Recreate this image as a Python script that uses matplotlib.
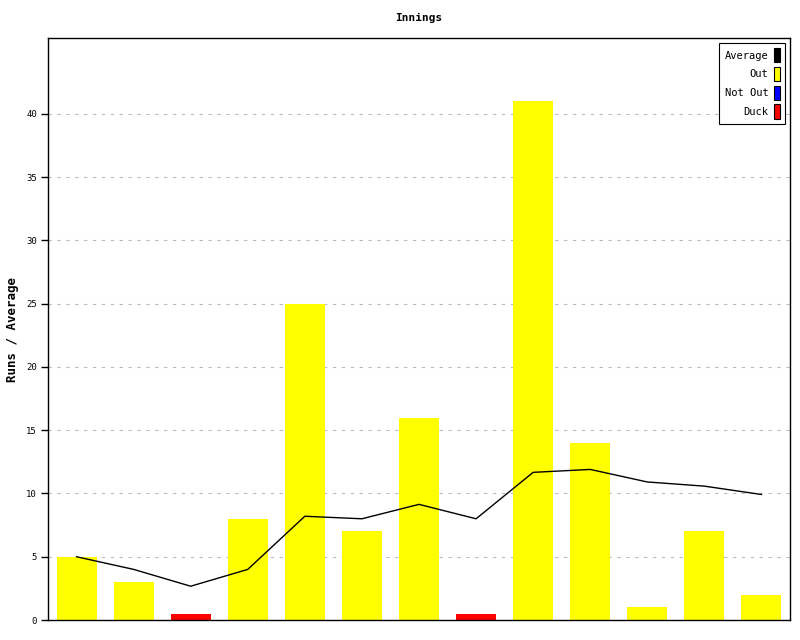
import matplotlib
matplotlib.use("Agg")
import matplotlib.pyplot as plt
from matplotlib.patches import Rectangle

innings = list(range(1, 14))
runs = [5, 3, 0.5, 8, 25, 7, 16, 0.5, 41, 14, 1, 7, 2]
status = ["Out", "Out", "Duck", "Out", "Out", "Out", "Out", "Duck", "Out", "Out", "Out", "Out", "Out"]
average = [5, 4, 2.67, 4, 8.2, 8, 9.14, 8, 11.67, 11.9, 10.91, 10.58, 9.92]
yticks = [0, 5, 10, 15, 20, 25, 30, 35, 40]

colors = {"Out": "#ffff00", "Not Out": "#0000ff", "Duck": "#ff0000", "Average": "#000000"}

plt.rcParams['font.family'] = ['DejaVu Sans Mono']
fig = plt.figure(figsize=(8, 6.4), dpi=100)
ax = fig.add_axes([0.06, 0.03125, 0.9275, 0.909375])

xs = list(range(len(innings)))
ax.bar(xs, runs, width=0.7, color=[colors[s] for s in status], zorder=2)
ax.plot(xs, average, color="black", linewidth=1, zorder=3)

ax.set_xlim(-0.5, len(innings) - 0.5)
ax.set_ylim(0, 46)
ax.set_yticks(yticks)
ax.set_yticklabels([str(t) for t in yticks], fontsize=6.5)
ax.set_xticks([])
ax.yaxis.grid(True, linestyle=(0, (3, 5)), color="#bbbbbb", linewidth=0.8, zorder=0)
ax.tick_params(axis='y', length=5, width=1, direction='out', pad=3)
for s in ax.spines.values():
    s.set_linewidth(1)
ax.set_ylabel("Runs / Average", fontsize=9, fontweight='bold', labelpad=5)
ax.set_title("Innings", fontsize=8, fontweight='bold', pad=12)

handles = [Rectangle((0, 0), 1, 1, facecolor=colors[k], edgecolor='black', linewidth=0.8)
           for k in ["Average", "Out", "Not Out", "Duck"]]
leg = ax.legend(handles, ["Average", "Out", "Not Out", "Duck"], loc='upper right',
                markerfirst=False, fontsize=7.5, fancybox=False, framealpha=1,
                edgecolor='black', handlelength=0.6, handleheight=1.7,
                handletextpad=0.5, labelspacing=0.45, borderpad=0.5,
                borderaxespad=0, bbox_to_anchor=(0.9933, 0.9914))
leg.get_frame().set_linewidth(0.8)

fig.savefig("out.png", dpi=100)
